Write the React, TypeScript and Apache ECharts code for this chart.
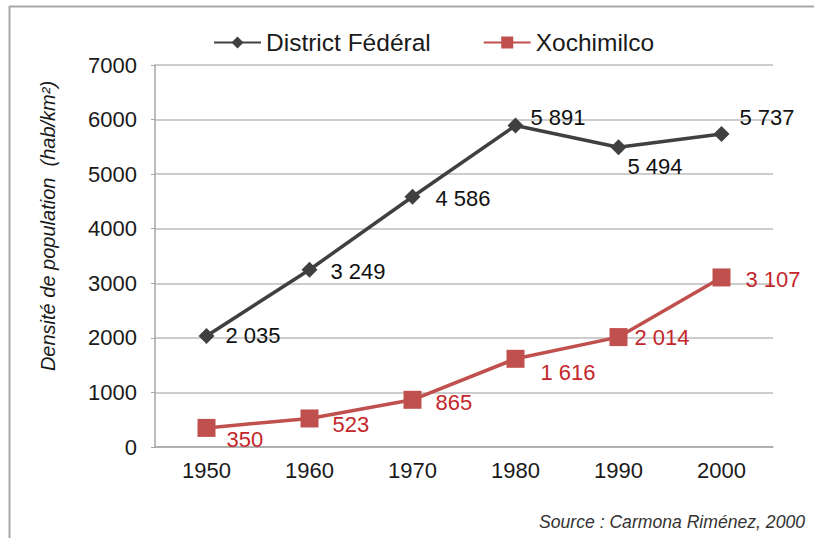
import React, { useEffect, useRef } from "react";
import * as echarts from "echarts";

const years = ["1950", "1960", "1970", "1980", "1990", "2000"];
const districtFederal = [2035, 3249, 4586, 5891, 5494, 5737];
const xochimilco = [350, 523, 865, 1616, 2014, 3107];
const seriesNames = ["District Fédéral", "Xochimilco"];
const yTicks = [0, 1000, 2000, 3000, 4000, 5000, 6000, 7000];

// label offsets (style only)
const dfOffsets = [[6, 0], [8, 2], [10, 2], [2, -8], [-4, 19], [5, -16]];
const xoOffsets = [[6, 12], [9, 6], [9, 3], [11, 14], [2, 0], [10, 2]];

const FONT = "'Liberation Sans', Arial, sans-serif";
const fmt = (v: number) => {
  const s = String(Math.round(v));
  return s.length > 3 ? s.slice(0, -3) + " " + s.slice(-3) : s;
};

export default function App() {
  const ref = useRef<HTMLDivElement>(null);
  useEffect(() => {
    document.body.style.margin = "0";
    const chart = echarts.init(ref.current!, null, { renderer: "svg" });
    const mk = (vals: number[], offs: number[][]) =>
      vals.map((v, i) => ({
        value: v,
        label: { offset: offs[i] },
      }));
    chart.setOption({
      animation: false,
      backgroundColor: "#ffffff",
      textStyle: { fontFamily: FONT },
      legend: {
        top: 25,
        left: 208,
        itemGap: 52,
        itemWidth: 47,
        itemHeight: 15,
        textStyle: { fontSize: 24.5, color: "#1a1a1a", fontFamily: FONT },
        data: seriesNames,
      },
      grid: { left: 155, right: 41, top: 65, bottom: 91, containLabel: false },
      xAxis: {
        type: "category",
        data: years,
        boundaryGap: true,
        axisLine: { lineStyle: { color: "#a6a6a6", width: 1.5 } },
        axisTick: { show: false },
        axisLabel: { fontSize: 22, color: "#1a1a1a", margin: 12, fontFamily: FONT },
      },
      yAxis: {
        type: "value",
        min: yTicks[0],
        max: yTicks[yTicks.length - 1],
        interval: 1000,
        axisLine: { show: true, lineStyle: { color: "#a6a6a6", width: 1.5 } },
        axisTick: { show: true, length: 4, lineStyle: { color: "#a6a6a6" } },
        splitLine: { lineStyle: { color: "#bdbdbd", width: 1.5 } },
        axisLabel: {
          fontSize: 22,
          color: "#1a1a1a",
          margin: 18,
          fontFamily: FONT,
          formatter: (v: number) => String(v),
        },
      },
      series: [
        {
          name: seriesNames[0],
          type: "line",
          data: mk(districtFederal, dfOffsets),
          symbol: "diamond",
          symbolSize: 16,
          itemStyle: { color: "#404040" },
          lineStyle: { color: "#404040", width: 3.5 },
          label: {
            show: true,
            position: "right",
            formatter: (p: any) => fmt(p.value),
            fontSize: 22,
            color: "#111",
            fontFamily: FONT,
          },
          z: 3,
        },
        {
          name: seriesNames[1],
          type: "line",
          data: mk(xochimilco, xoOffsets),
          symbol: "rect",
          symbolSize: 18,
          itemStyle: { color: "#c0504d" },
          lineStyle: { color: "#c0504d", width: 3.5 },
          label: {
            show: true,
            position: "right",
            formatter: (p: any) => fmt(p.value),
            fontSize: 22,
            color: "#c3272b",
            fontFamily: FONT,
          },
          z: 3,
        },
      ],
      graphic: [
        {
          type: "line",
          shape: { x1: 9.5, y1: 6, x2: 9.5, y2: 538 },
          style: { stroke: "#a8a8a8", lineWidth: 2 },
        },
        {
          type: "line",
          shape: { x1: 9, y1: 6.5, x2: 814, y2: 6.5 },
          style: { stroke: "#a8a8a8", lineWidth: 2 },
        },
        {
          type: "text",
          x: 48,
          y: 226,
          rotation: Math.PI / 2,
          style: {
            text: "Densité de population  (hab/km²)",
            font: "italic 20px " + FONT,
            fill: "#1a1a1a",
            align: "center",
            verticalAlign: "middle",
          },
        },
        {
          type: "text",
          right: 9,
          top: 513,
          style: {
            text: "Source : Carmona Riménez, 2000",
            font: "italic 17.6px " + FONT,
            fill: "#333",
          },
        },
      ],
    });
    return () => chart.dispose();
  }, []);
  return <div ref={ref} style={{ width: 814, height: 538 }} />;
}
